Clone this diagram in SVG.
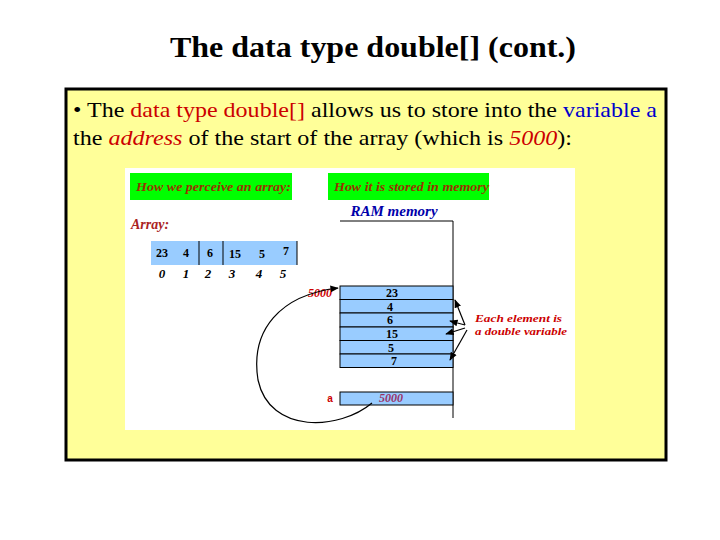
<svg xmlns="http://www.w3.org/2000/svg" width="720" height="540" viewBox="0 0 720 540">
<defs>
<style>
.t{font-family:"Liberation Serif",serif}
.c{fill:#99ccff;stroke:#000;stroke-width:1}
.n{font-family:"Liberation Serif",serif;font-weight:bold;font-size:12px;text-anchor:middle}
.i{font-family:"Liberation Serif",serif;font-weight:bold;font-style:italic;font-size:13px;text-anchor:middle}
.r{font-family:"Liberation Serif",serif;font-weight:bold;font-style:italic;fill:#cc0000}
</style>
<marker id="ah" viewBox="0 0 10 10" refX="9" refY="5" markerWidth="7" markerHeight="7" orient="auto"><path d="M0,1 L10,5 L0,9 z" fill="#000"/></marker>
</defs>
<rect width="720" height="540" fill="#fff"/>
<text class="t" x="170" y="57" font-size="29" font-weight="bold" textLength="406" lengthAdjust="spacingAndGlyphs">The data type double[] (cont.)</text>
<rect x="66" y="89" width="600" height="371" fill="#ffff99" stroke="#000" stroke-width="3"/>
<text class="t" x="73" y="117" font-size="22" textLength="584" lengthAdjust="spacingAndGlyphs">• The <tspan fill="#cc0000">data type double[]</tspan> allows us to store into the <tspan fill="#0000cc">variable a</tspan></text>
<text class="t" x="73" y="145" font-size="22" textLength="499" lengthAdjust="spacingAndGlyphs">the <tspan fill="#cc0000" font-style="italic">address</tspan> of the start of the array (which is <tspan fill="#cc0000" font-style="italic">5000</tspan>):</text>
<rect x="125" y="168" width="450" height="262" fill="#fff"/>
<g id="headers">
<rect x="130" y="173" width="162" height="27" fill="#00ff00"/>
<text class="r" x="136" y="191" font-size="13" style="fill:#993300" textLength="155" lengthAdjust="spacingAndGlyphs">How we perceive an array:</text>
<rect x="328" y="173" width="161" height="27" fill="#00ff00"/>
<text class="r" x="334" y="191" font-size="13" style="fill:#993300" textLength="155" lengthAdjust="spacingAndGlyphs">How it is stored in memory</text>
</g>
<text class="r" x="131" y="229" font-size="14" style="fill:#aa2222">Array:</text>
<text x="394" y="216" font-family="Liberation Serif,serif" font-weight="bold" font-style="italic" font-size="15" fill="#0000aa" text-anchor="middle">RAM memory</text>
<g id="array">
<rect x="151" y="241" width="146" height="24" fill="#99ccff"/>
<line x1="199" y1="241" x2="199" y2="265" stroke="#000"/>
<line x1="223" y1="241" x2="223" y2="265" stroke="#000"/>
<line x1="297" y1="241" x2="297" y2="265" stroke="#000"/>
<text class="n" x="162" y="257">23</text><text class="n" x="186" y="257">4</text><text class="n" x="210" y="257">6</text><text class="n" x="235" y="258">15</text><text class="n" x="262" y="258">5</text><text class="n" x="286" y="255">7</text>
<text class="i" x="162" y="278">0</text><text class="i" x="186" y="278">1</text><text class="i" x="208" y="278">2</text><text class="i" x="232" y="278">3</text><text class="i" x="259" y="278">4</text><text class="i" x="283" y="278">5</text>
</g>
<g id="memory">
<polyline points="340,221 453,221 453,418" fill="none" stroke="#000"/>
<rect class="c" x="340" y="286" width="113" height="13.5"/>
<rect class="c" x="340" y="299.5" width="113" height="13.5"/>
<rect class="c" x="340" y="313" width="113" height="14"/>
<rect class="c" x="340" y="327" width="113" height="13.5"/>
<rect class="c" x="340" y="340.5" width="113" height="13.5"/>
<rect class="c" x="340" y="354" width="113" height="13.5"/>
<text class="n" x="392" y="297">23</text><text class="n" x="390" y="311">4</text><text class="n" x="390" y="324">6</text><text class="n" x="392" y="338">15</text><text class="n" x="391" y="352">5</text><text class="n" x="394" y="365">7</text>
<rect class="c" x="340" y="392" width="113" height="13"/>
<text class="r" x="391" y="402" font-size="12" text-anchor="middle" style="fill:#993366">5000</text>
<text x="330" y="402" font-family="Liberation Sans,sans-serif" font-weight="bold" font-size="10" fill="#cc0000" text-anchor="middle">a</text>
<text class="r" x="320" y="297" font-size="12" text-anchor="middle">5000</text>
<text class="r" x="475" y="322" font-size="11" textLength="87" lengthAdjust="spacingAndGlyphs">Each element is</text>
<text class="r" x="475" y="335" font-size="11" textLength="92" lengthAdjust="spacingAndGlyphs">a double variable</text>
</g>
<g id="connectors" stroke="#000" stroke-width="1.2" fill="none" marker-end="url(#ah)">
<path d="M372,403 C340,430 270,435 258,380 C250,330 280,295 338,288"/>
<path d="M465,325 L455,300"/>
<path d="M465,325 L450,321"/>
<path d="M465,328 L446,334"/>
<path d="M467,330 L450,360"/>
</g>
</svg>
